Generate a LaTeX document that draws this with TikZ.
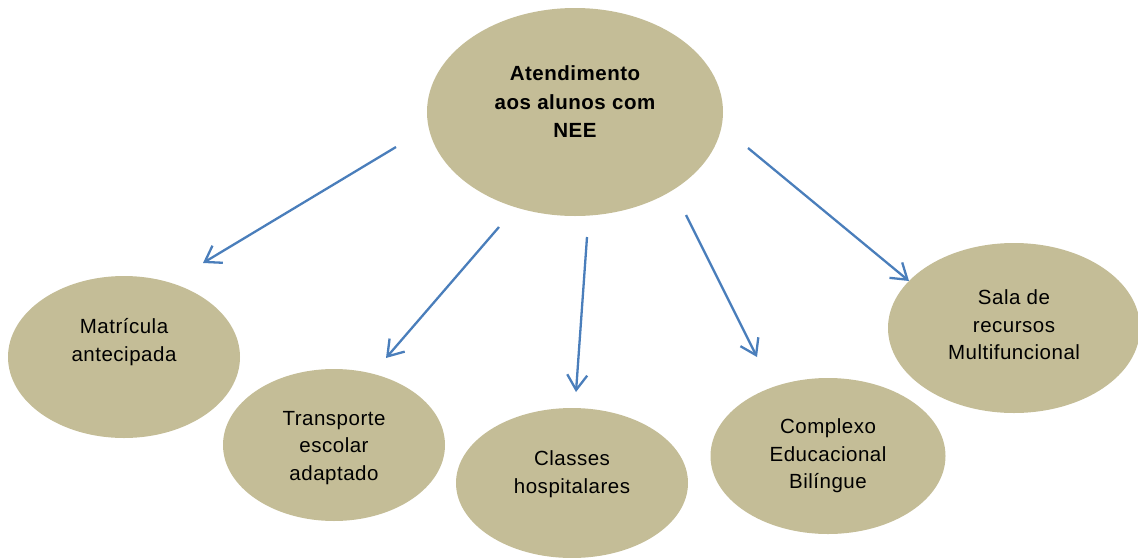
\documentclass[tikz,border=0pt]{standalone}
\usepackage{fontspec}
\setmainfont{Liberation Sans}[LetterSpace=2.5]
\usetikzlibrary{shapes.geometric,arrows.meta,calc}
\definecolor{tan}{HTML}{C4BD97}
\definecolor{arrowblue}{HTML}{4A7EBB}
\tikzset{
  blob/.style={ellipse, fill=tan, draw=none, inner sep=0pt},
  txt/.style={align=center, font=\fontsize{20.5}{27.5}\selectfont, text=black},
  conn/.style={draw=arrowblue, line width=2.3pt, -{Straight Barb[length=15pt,width=20pt,line width=2.3pt]}},
}
\begin{document}
\begin{tikzpicture}[x=1pt,y=-1pt]
\useasboundingbox (0,0) rectangle (1138,557);
% ellipses
\node[blob, minimum width=296pt, minimum height=208pt] (top) at (575,112) {};
\node[blob, minimum width=232pt, minimum height=162pt] (mat) at (124,357) {};
\node[blob, minimum width=222pt, minimum height=152pt] (tra) at (334,445) {};
\node[blob, minimum width=232pt, minimum height=150pt] (cla) at (572,483) {};
\node[blob, minimum width=235pt, minimum height=156pt] (com) at (828,456) {};
\node[blob, minimum width=252pt, minimum height=170pt] (sal) at (1014,328) {};
% texts
\node[txt, font=\fontsize{20.5}{28.5}\selectfont\bfseries] (ttop) at (575,102) {Atendimento\\aos alunos com\\NEE};
\node[txt] (tmat) at (124,342) {Matrícula\\antecipada};
\node[txt] (ttra) at (334,448) {Transporte\\escolar\\adaptado};
\node[txt] (tcla) at (572,474) {Classes\\hospitalares};
\node[txt] (tcom) at (828,456) {Complexo\\Educacional\\Bilíngue};
\node[txt] (tsal) at (1014,325) {Sala de\\recursos\\Multifuncional};
% arrow endpoints
\coordinate (a1s) at (396,147); \coordinate (a1e) at (203,263);
\coordinate (a2s) at (499,227); \coordinate (a2e) at (386,358);
\coordinate (a3s) at (587,237); \coordinate (a3e) at (576,392);
\coordinate (a4s) at (686,215); \coordinate (a4e) at (757,357);
\coordinate (a5s) at (748,148); \coordinate (a5e) at (909,281);
\draw[conn] (a1s) -- (a1e);
\draw[conn] (a2s) -- (a2e);
\draw[conn] (a3s) -- (a3e);
\draw[conn] (a4s) -- (a4e);
\draw[conn] (a5s) -- (a5e);
\end{tikzpicture}
\end{document}
